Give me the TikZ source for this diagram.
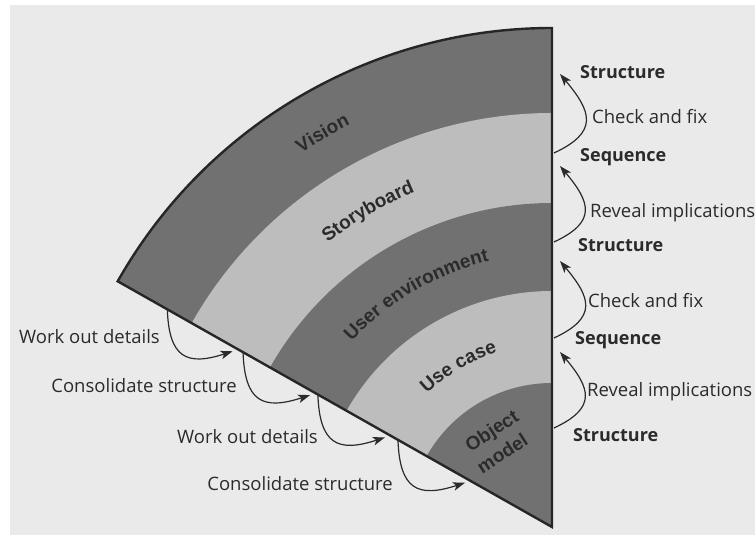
\documentclass[tikz,border=0pt]{standalone}
\usepackage{fontspec}
\setmainfont{Open Sans}
\newfontfamily\bandfamily{Liberation Sans}
\usetikzlibrary{decorations.text,arrows.meta}
\definecolor{paper}{HTML}{EAEAEA}
\definecolor{darkband}{HTML}{717171}
\definecolor{lightband}{HTML}{BDBDBD}
\definecolor{ink}{HTML}{2B2B2B}
\newcommand\bandlabelfont{\bandfamily\bfseries\fontsize{19}{22}\selectfont}
\begin{document}
\begin{tikzpicture}[x=1pt,y=1pt,
  lbl/.style={font=\fontsize{18.5}{21}\selectfont, text=ink, inner sep=0pt},
  blbl/.style={font=\fontsize{18}{21}\selectfont\bfseries, text=ink, inner sep=0pt, anchor=west},
  rlbl/.style={lbl, anchor=west},
  llbl/.style={lbl, anchor=east},
  looparrow/.style={draw=ink, line width=1.2pt, -{Stealth[length=12pt,width=8.5pt,inset=3pt]}},
  bandtext/.style={decorate, decoration={text along path, text align=center, text color=ink, text={|\bandlabelfont|#1}}},
  bandnode/.style={font=\bandlabelfont, text=ink, rotate=33, inner sep=0pt}
  ]
\useasboundingbox (0,0) rectangle (755,535);
\fill[white] (0,0) rectangle (755,535);
\fill[paper] (10,0) rectangle (755,530);

\begin{scope}[shift={(552,8)}]
  \coordinate (apex) at (0,0);
  \fill[darkband] (0,0) -- (90:499) arc[start angle=90,end angle=150.5,radius=499] -- cycle;
  \fill[lightband] (0,0) -- (90:414) arc[start angle=90,end angle=150.5,radius=414] -- cycle;
  \fill[darkband] (0,0) -- (90:324) arc[start angle=90,end angle=150.5,radius=324] -- cycle;
  \fill[lightband] (0,0) -- (90:236) arc[start angle=90,end angle=150.5,radius=236] -- cycle;
  \fill[darkband] (0,0) -- (90:144) arc[start angle=90,end angle=150.5,radius=144] -- cycle;
  \draw[line width=2.4pt, line join=miter, draw=black!85] (0,0) -- (90:499) arc[start angle=90,end angle=150.5,radius=499] -- cycle;

  \path[bandtext=Vision] (150.5:450) arc[start angle=150.5,end angle=90,radius=450];
  \path[bandtext=Storyboard] (150.5:362) arc[start angle=150.5,end angle=90,radius=362];
  \path[bandtext=User environment] (150.5:273) arc[start angle=150.5,end angle=90,radius=273];
  \path[bandtext=Use case] (150.5:183) arc[start angle=150.5,end angle=90,radius=183];
  \node[bandnode] (obj) at (122:112) {Object};
  \node[bandnode] (mdl) at (124:89) {model};

  \coordinate (l1a) at (150.5:442);
  \coordinate (l1b) at ([shift={(0,-5)}]150.5:367);
  \coordinate (l2a) at (150.5:355);
  \coordinate (l2b) at ([shift={(0,-5)}]150.5:278);
  \coordinate (l3a) at (150.5:269);
  \coordinate (l3b) at ([shift={(0,-5)}]150.5:192);
  \coordinate (l4a) at (150.5:177);
  \coordinate (l4b) at ([shift={(0,-5)}]150.5:100);
\end{scope}

% right side
\node[blbl] (s1) at (580,463) {Structure};
\node[rlbl] (c1) at (592,418) {Check and fix};
\node[blbl] (q1) at (580,378) {Sequence};
\node[rlbl] (r1) at (590,322) {Reveal implications};
\node[blbl] (s2) at (578,290) {Structure};
\node[rlbl] (c2) at (588,234) {Check and fix};
\node[blbl] (q2) at (575,195) {Sequence};
\node[rlbl] (r2) at (587,143) {Reveal implications};
\node[blbl] (s3) at (573,100) {Structure};

\coordinate (ra1) at (554,382);
\coordinate (rb1) at (560,461);
\coordinate (ra2) at (554,293);
\coordinate (rb2) at (560,369);
\coordinate (ra3) at (554,197);
\coordinate (rb3) at (560,274);
\coordinate (ra4) at (554,107);
\coordinate (rb4) at (560,183);
\draw[looparrow] (ra1) to[out=25,in=-50,looseness=1.6] (rb1);
\draw[looparrow] (ra2) to[out=25,in=-50,looseness=1.6] (rb2);
\draw[looparrow] (ra3) to[out=25,in=-50,looseness=1.6] (rb3);
\draw[looparrow] (ra4) to[out=25,in=-50,looseness=1.6] (rb4);

% left side
\node[llbl] (w1) at (160,198) {Work out details};
\node[llbl] (k1) at (237,149) {Consolidate structure};
\node[llbl] (w2) at (318,98) {Work out details};
\node[llbl] (k2) at (393,51) {Consolidate structure};

\draw[looparrow] (l1a) to[out=-88,in=198,looseness=1.6] (l1b);
\draw[looparrow] (l2a) to[out=-88,in=198,looseness=1.6] (l2b);
\draw[looparrow] (l3a) to[out=-88,in=198,looseness=1.6] (l3b);
\draw[looparrow] (l4a) to[out=-88,in=198,looseness=1.6] (l4b);
\end{tikzpicture}
\end{document}
